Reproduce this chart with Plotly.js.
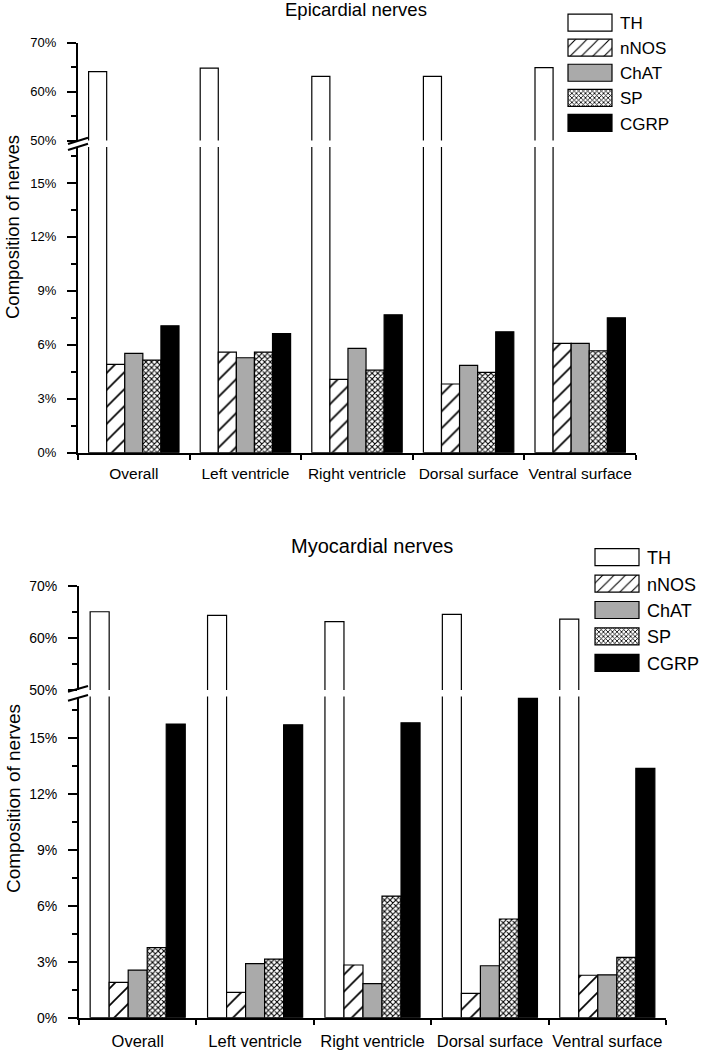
<!DOCTYPE html>
<html><head><meta charset="utf-8">
<script src="https://cdn.plot.ly/plotly-3.0.1.min.js"></script>
<style>html,body{margin:0;padding:0;background:#fff}#chart{width:709px;height:1050px}</style>
</head><body><div id="chart"></div>
<script>
// ---- data ----
const categories = ['Overall', 'Left ventricle', 'Right ventricle', 'Dorsal surface', 'Ventral surface'];
const seriesNames = ['TH', 'nNOS', 'ChAT', 'SP', 'CGRP'];

const epiTH   = [64.1, 64.8, 63.1, 63.1, 64.9];
const epiNNOS = [4.91, 5.59, 4.08, 3.82, 6.08];
const epiChAT = [5.52, 5.28, 5.80, 4.86, 6.08];
const epiSP   = [5.15, 5.59, 4.59, 4.47, 5.67];
const epiCGRP = [7.06, 6.63, 7.67, 6.72, 7.50];

const myoTH   = [65.0, 64.3, 63.1, 64.5, 63.6];
const myoNNOS = [1.90, 1.36, 2.83, 1.31, 2.28];
const myoChAT = [2.56, 2.90, 1.83, 2.79, 2.30];
const myoSP   = [3.76, 3.15, 6.53, 5.30, 3.24];
const myoCGRP = [15.77, 15.73, 15.84, 17.15, 13.39];

const lowTicks = [0, 3, 6, 9, 12, 15];
const lowMinor = [1.5, 4.5, 7.5, 10.5, 13.5, 16.5];
const highTicks = [50, 60, 70];
const highMinor = [55, 65];

// ---- styles ----
const FONT = 'Arial, "Liberation Sans", Helvetica, sans-serif';
const W = 709, H = 1050;
const px = v => v / W;
const py = v => 1 - v / H;
const line = {color: '#000', width: 1.2};
const markers = [
  {color: '#ffffff', line: line},
  {color: '#ffffff', line: line, pattern: {shape: '/', fgcolor: '#000', bgcolor: '#fff', size: 12, solidity: 0.14, fillmode: 'replace'}},
  {color: '#aaaaaa', line: line},
  {color: '#ffffff', line: line, pattern: {shape: 'x', fgcolor: '#000', bgcolor: '#fff', size: 4, solidity: 0.45, fillmode: 'replace'}},
  {color: '#000000', line: line}
];

const panels = [
  {data: [epiTH, epiNNOS, epiChAT, epiSP, epiCGRP], x: 'x', yl: 'y', yh: 'y2', legend: 'legend'},
  {data: [myoTH, myoNNOS, myoChAT, myoSP, myoCGRP], x: 'x2', yl: 'y3', yh: 'y4', legend: 'legend2'}
];

const traces = [];
panels.forEach(p => {
  p.data.forEach((vals, i) => {
    traces.push({type: 'bar', x: categories, y: vals, name: seriesNames[i], xaxis: p.x, yaxis: p.yl,
      legend: p.legend, showlegend: true, marker: markers[i], hoverinfo: 'x+y+name'});
    traces.push({type: 'bar', x: categories, y: vals, name: seriesNames[i], xaxis: p.x, yaxis: p.yh,
      legend: p.legend, showlegend: false, marker: markers[i], hoverinfo: 'x+y+name'});
  });
});

function xAxis(d0, d1, anchor, fs, standoff) {
  return {domain: [px(d0), px(d1)], anchor: anchor, type: 'category', showline: true, linewidth: 2, linecolor: '#000',
    ticks: 'outside', tickson: 'boundaries', ticklen: 5, tickwidth: 2, tickcolor: '#000', tickangle: 0,
    tickfont: {family: FONT, size: fs, color: '#000'}, ticklabelstandoff: standoff,
    showgrid: false, zeroline: false, fixedrange: true};
}
function yAxis(bot, top, range, tv, mv, fs, anchor) {
  return {domain: [py(bot), py(top)], anchor: anchor, range: range, tickmode: 'array', tickvals: tv,
    ticktext: tv.map(v => v + '%'), showline: true, linewidth: 2, linecolor: '#000',
    ticks: 'outside', ticklen: 9, tickwidth: 2, tickcolor: '#000',
    minor: {tickmode: 'array', tickvals: mv, ticks: 'outside', ticklen: 5, tickwidth: 2, tickcolor: '#000'},
    tickfont: {family: FONT, size: fs, color: '#000'}, ticklabelstandoff: 8,
    showgrid: false, zeroline: false, fixedrange: true};
}

function brk(x0, x1, yA, yB) {
  return {type: 'line', xref: 'paper', yref: 'paper', x0: px(x0), x1: px(x1), y0: py(yA), y1: py(yB),
    line: {color: '#000', width: 2}};
}

const layout = {
  width: W, height: H, margin: {l: 0, r: 0, t: 0, b: 0},
  paper_bgcolor: '#fff', plot_bgcolor: 'rgba(0,0,0,0)',
  font: {family: FONT, color: '#000'},
  barmode: 'group', bargap: 0.19, bargroupgap: 0,
  xaxis: xAxis(78, 636, 'y', 15.5, 6),
  yaxis: yAxis(452.7, 147, [0, 17], lowTicks, lowMinor, 13, 'x'),
  yaxis2: yAxis(140.5, 42.7, [50, 70], highTicks, highMinor, 13, 'x'),
  xaxis2: xAxis(79, 666, 'y3', 16.5, 7),
  yaxis3: yAxis(1017.7, 696.5, [0, 17.25], lowTicks, lowMinor, 14, 'x2'),
  yaxis4: yAxis(690, 585.7, [50, 70], highTicks, highMinor, 14, 'x2'),
  legend: {x: px(560), y: py(5), xanchor: 'left', yanchor: 'top', font: {family: FONT, size: 17, color: '#000'},
    bgcolor: 'rgba(0,0,0,0)', itemwidth: 50, tracegroupgap: 0, traceorder: 'normal'},
  legend2: {x: px(587), y: py(539), xanchor: 'left', yanchor: 'top', font: {family: FONT, size: 18, color: '#000'},
    bgcolor: 'rgba(0,0,0,0)', itemwidth: 50, tracegroupgap: 0, traceorder: 'normal'},
  shapes: [
    brk(68, 88, 144, 137.7), brk(68, 88, 150, 143.7),
    brk(68, 88, 691.7, 686), brk(68, 88, 700.7, 695)
  ],
  annotations: [
    {text: 'Epicardial nerves', xref: 'paper', yref: 'paper', x: px(356), y: py(10), xanchor: 'center', yanchor: 'middle',
      showarrow: false, font: {family: FONT, size: 18.5, color: '#000'}},
    {text: 'Myocardial nerves', xref: 'paper', yref: 'paper', x: px(372), y: py(546), xanchor: 'center', yanchor: 'middle',
      showarrow: false, font: {family: FONT, size: 20, color: '#000'}},
    {text: 'Composition of nerves', xref: 'paper', yref: 'paper', x: px(13), y: py(227), xanchor: 'center', yanchor: 'middle',
      textangle: -90, showarrow: false, font: {family: FONT, size: 18.5, color: '#000'}},
    {text: 'Composition of nerves', xref: 'paper', yref: 'paper', x: px(13), y: py(799), xanchor: 'center', yanchor: 'middle',
      textangle: -90, showarrow: false, font: {family: FONT, size: 19, color: '#000'}}
  ]
};

Plotly.newPlot('chart', traces, layout, {displayModeBar: false, staticPlot: true}).then(gd => {
  gd.querySelectorAll('g.legendpoints path').forEach(p => {
    p.setAttribute('d', 'M22,8.5H-22V-8.5H22Z');
  });
});
</script>
</body></html>
